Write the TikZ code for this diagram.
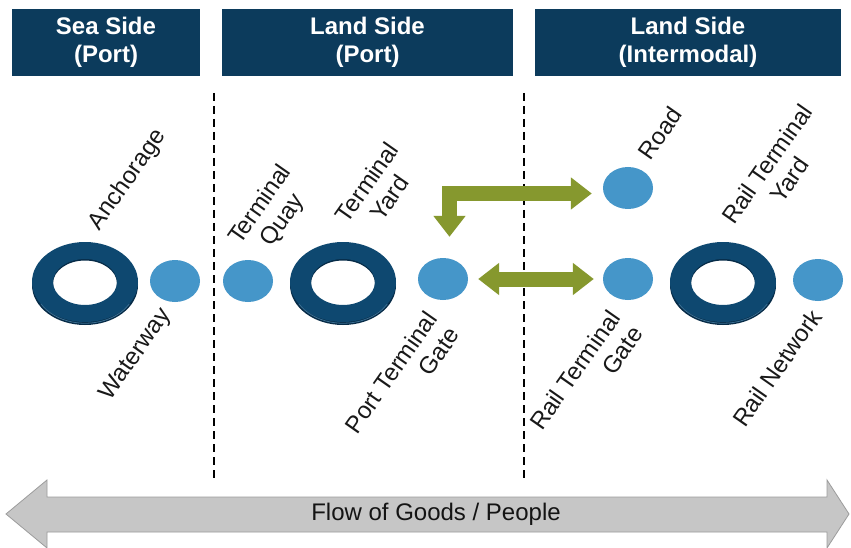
\documentclass[tikz,border=0pt]{standalone}
\usepackage{fontspec}
\setmainfont{Liberation Sans}
\usetikzlibrary{shapes.geometric,arrows.meta,calc}
\definecolor{navy}{HTML}{0C3B5C}
\definecolor{ringc}{HTML}{0E4870}
\definecolor{ringd}{HTML}{062B47}
\definecolor{ringl}{HTML}{3A6E92}
\definecolor{dotc}{HTML}{4596C9}
\definecolor{olivec}{HTML}{86982E}
\definecolor{flowc}{HTML}{C6C6C6}
\definecolor{flowd}{HTML}{9C9C9C}
\newcommand\ringshape[3]{%
  \fill[ringd,even odd rule] (#2,#3-3) ellipse [x radius=53,y radius=40] (#2,#3-1.5) ellipse [x radius=32,y radius=23];
  \fill[ringc,even odd rule] (#2,#3) ellipse [x radius=53,y radius=40] (#2,#3) ellipse [x radius=32,y radius=23];
  \draw[ringl, line width=0.8] (#2-44,#3-22) arc [start angle=210, end angle=330, x radius=51, y radius=38.5];
  \coordinate (#1) at (#2,#3);}
\begin{document}
\begin{tikzpicture}[x=1pt,y=1pt,
  hdr/.style={fill=navy, text=white, font=\fontsize{24}{28}\selectfont\bfseries, align=center, inner sep=0pt, minimum height=67},
  dot/.style={ellipse, fill=dotc, minimum width=50, minimum height=42, inner sep=0pt},
  lbl/.style={font=\fontsize{24}{27}\selectfont, rotate=55, inner sep=0pt, text=black!90},
  divider/.style={line width=1.5, dash pattern=on 8pt off 5pt},
  garrow/.style={olivec, line width=15, line join=miter, {Triangle[length=21pt,width=31pt]}-{Triangle[length=21pt,width=31pt]}},
  flowtext/.style={font=\fontsize{24}{29}\selectfont, text=black!92}]
\useasboundingbox (0,0) rectangle (851,-548);
\fill[white] (0,0) rectangle (851,-548);

% headers
\node[hdr, minimum width=188] (h1) at (106,-42.5) {Sea Side\\(Port)};
\node[hdr, minimum width=291] (h2) at (367.5,-42.5) {Land Side\\(Port)};
\node[hdr, minimum width=306] (h3) at (688,-42.5) {Land Side\\(Intermodal)};

% dividers
\draw[divider] (214,-93) -- (214,-480);
\draw[divider] (524,-93) -- (524,-480);

% rings
\ringshape{anchor}{85}{-282}
\ringshape{tyardring}{343}{-282}
\ringshape{ryardring}{723}{-282}

% dots
\node[dot] (water) at (175,-281) {};
\node[dot] (quay) at (248,-281) {};
\node[dot] (ptg) at (443,-279) {};
\node[dot] (road) at (628,-188) {};
\node[dot] (rtg) at (628,-279) {};
\node[dot] (rnetdot) at (818,-280) {};

% green arrows
\draw[garrow] ($(ptg.east)+(10,0)$) -- ($(rtg.west)+(-9,0)$);
\draw[garrow] ($(ptg.north)+(6.5,21)$) |- ($(road.west)+(-11,-5.5)$);

% labels
\node[lbl] (lanch) at (128,-180) {Anchorage};
\node[lbl] (lwater) at (136,-355) {Waterway};
\node[lbl, align=center] (lquay) at (272,-213) {Terminal\\Quay};
\node[lbl, align=center] (lyard) at (378,-190) {Terminal\\Yard};
\node[lbl, align=right] (lptg) at (402,-380) {Port Terminal\\Gate};
\node[lbl] (lroad) at (660,-133) {Road};
\node[lbl, align=right] (lrtg) at (586,-378) {Rail Terminal\\Gate};
\node[lbl, align=center] (lryard) at (778,-172) {Rail Terminal\\Yard};
\node[lbl] (lrnet) at (777,-368) {Rail Network};

% flow arrow
\filldraw[fill=flowc, draw=flowd, line width=0.8]
  (6,-514) -- (47,-480) -- (47,-497) -- (827,-497) -- (827,-480) -- (849,-514)
  -- (827,-548) -- (827,-532) -- (47,-532) -- (47,-548) -- cycle;
\node[flowtext] (flow) at (436,-514) {Flow of Goods / People};
\end{tikzpicture}
\end{document}
